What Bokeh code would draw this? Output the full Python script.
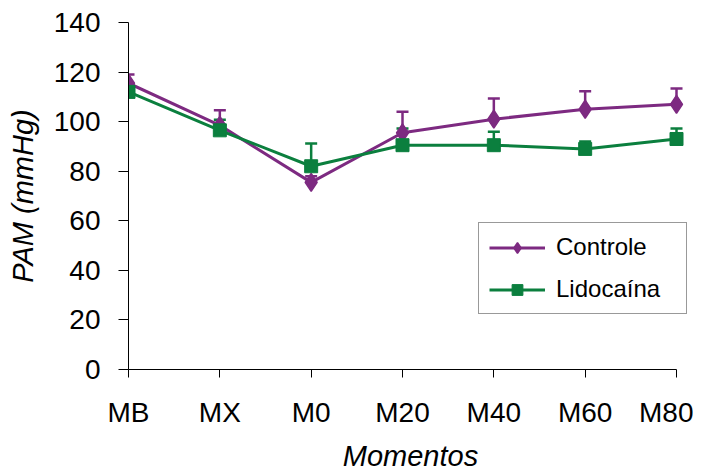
from bokeh.plotting import figure
from bokeh.models import (Range1d, FixedTicker, ColumnDataSource, Whisker, TeeHead,
                          Legend, LegendItem)
from bokeh.embed import file_html
from bokeh.resources import INLINE

# ---- data ----
momentos = ["MB", "MX", "M0", "M20", "M40", "M60", "M80"]
controle = [115.5, 98.5, 75.5, 95.5, 101, 105, 107]
controle_sup = [119, 104.6, 78, 104, 109.3, 112.3, 113.4]
lidocaina = [112, 96.5, 82, 90.5, 90.5, 89, 93]
lidocaina_sup = [115, 100.8, 91.2, 97.2, 95.9, 92, 97.2]
y_ticks = [0, 20, 40, 60, 80, 100, 120, 140]

PURPLE = "#7D2A81"
GREEN = "#0B7F3E"
FONT = "Liberation Sans"

xs = list(range(len(momentos)))
n_last = len(momentos) - 1

# frame is a bit wider than the category axis so the legend fits inside
AXIS_W = 548
FRAME_W = 564
p = figure(frame_width=FRAME_W, frame_height=347,
           x_range=Range1d(0, n_last * FRAME_W / AXIS_W),
           y_range=Range1d(0, 140), output_backend="svg", toolbar_location=None,
           min_border_left=128, min_border_right=1, min_border_top=22,
           min_border_bottom=90)
p.outline_line_color = None
p.grid.visible = False
p.background_fill_color = "white"
p.border_fill_color = "white"

src_c = ColumnDataSource(dict(x=xs, y=controle, up=controle_sup))
src_l = ColumnDataSource(dict(x=xs, y=lidocaina, up=lidocaina_sup))

# error bars (upper only)
for src, col in ((src_c, PURPLE), (src_l, GREEN)):
    w = Whisker(source=src, base="x", lower="y", upper="up",
                line_color=col, line_width=2.5,
                upper_head=TeeHead(size=12, line_color=col, line_width=2.5),
                lower_head=None, level="underlay")
    p.add_layout(w)

lc = p.line("x", "y", source=src_c, line_color=PURPLE, line_width=3)
mc = p.scatter("x", "y", source=src_c, marker="diamond", size=18,
               fill_color=PURPLE, line_color=PURPLE, line_width=1.5)
ll = p.line("x", "y", source=src_l, line_color=GREEN, line_width=3)
ml = p.scatter("x", "y", source=src_l, marker="square", size=13,
               fill_color=GREEN, line_color=GREEN)

legend = Legend(items=[LegendItem(label="Controle", renderers=[lc, mc]),
                       LegendItem(label="Lidocaína", renderers=[ll, ml])],
                location=(350, 55), padding=10, spacing=14, glyph_height=27,
                glyph_width=56, label_standoff=11, label_width=120, margin=0,
                border_line_color="#333333", border_line_width=1,
                background_fill_color="white", background_fill_alpha=1,
                label_text_font=FONT, label_text_font_size="24px",
                label_text_color="black")
p.add_layout(legend)

# axes
p.xaxis.ticker = FixedTicker(ticks=xs)
p.xaxis.major_label_overrides = {i: m for i, m in zip(xs, momentos)}
p.xaxis.bounds = (0, n_last)
p.yaxis.ticker = FixedTicker(ticks=y_ticks)

for ax in (p.xaxis[0], p.yaxis[0]):
    ax.axis_line_color = "black"
    ax.axis_line_width = 1
    ax.major_tick_line_color = "black"
    ax.major_tick_line_width = 1
    ax.major_tick_in = 0
    ax.minor_tick_line_color = None
    ax.major_label_text_font = FONT
    ax.major_label_text_font_size = "28px"
    ax.major_label_text_color = "black"
    ax.axis_label_text_font = FONT
    ax.axis_label_text_font_style = "italic"
    ax.axis_label_text_font_size = "29px"
    ax.axis_label_text_color = "black"

p.xaxis.major_tick_out = 8
p.yaxis.major_tick_out = 10
p.xaxis.major_label_standoff = 19
p.yaxis.major_label_standoff = 18
p.xaxis.axis_label = "Momentos"
p.yaxis.axis_label = "PAM (mmHg)"
p.xaxis.axis_label_standoff = 9
p.yaxis.axis_label_standoff = 12

open("out.html", "w").write(file_html(p, INLINE))
